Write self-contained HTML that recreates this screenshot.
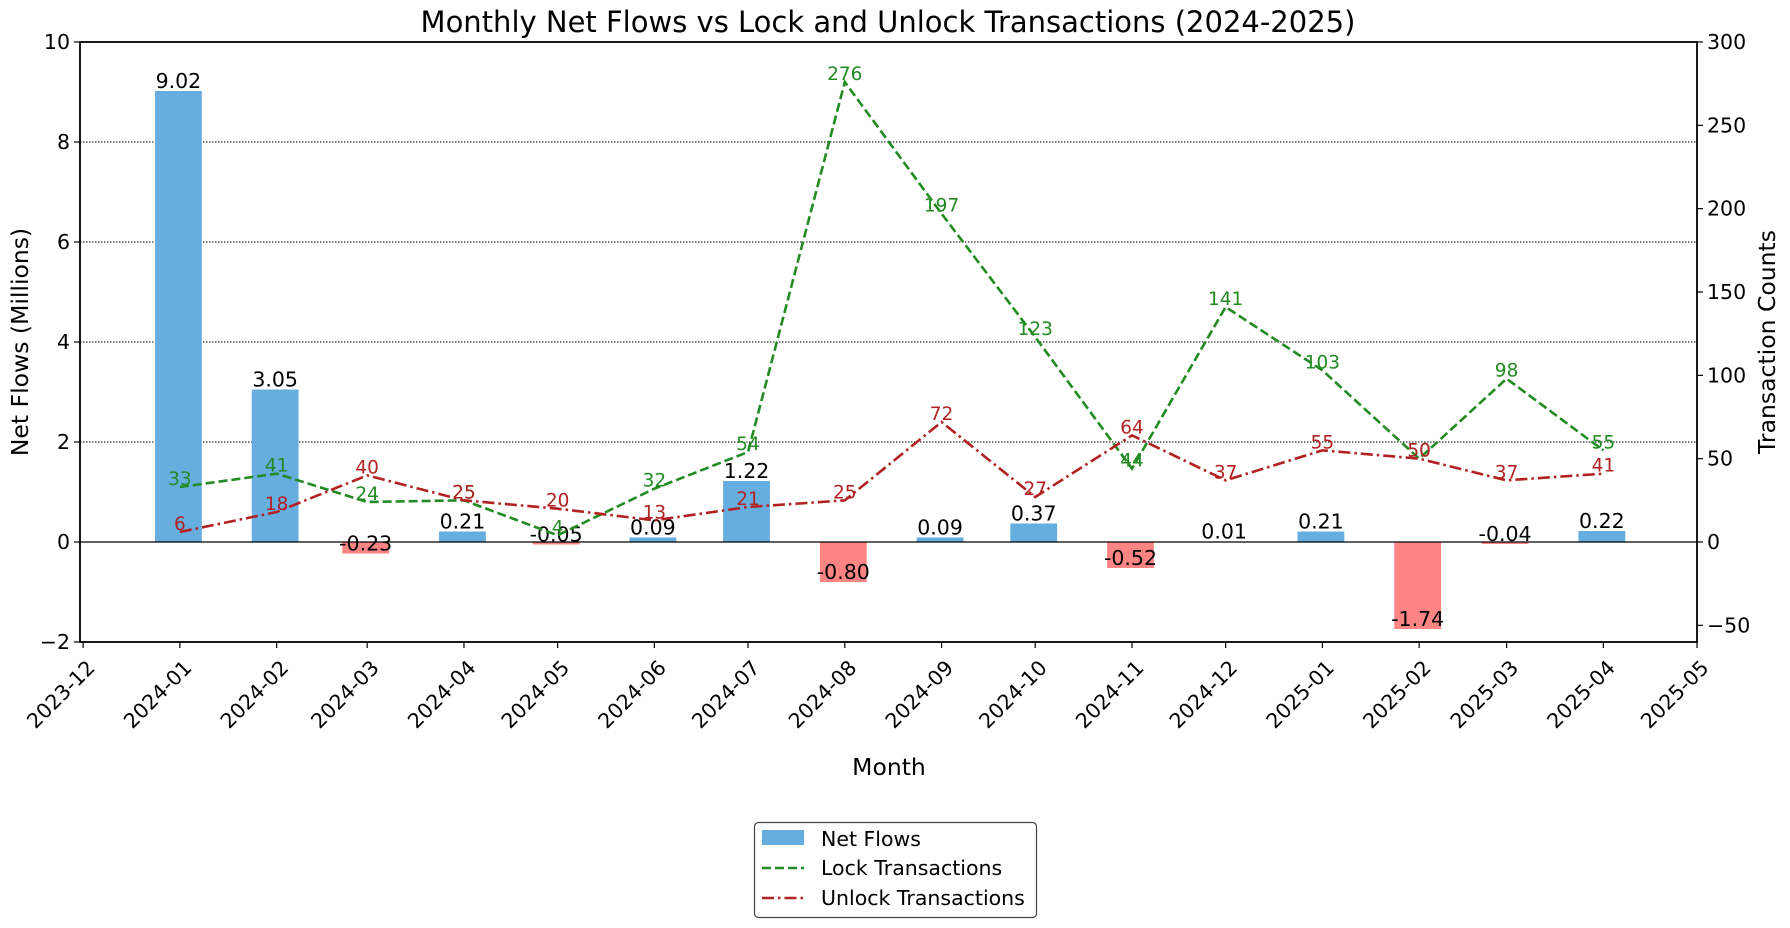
<!DOCTYPE html>
<html><head><meta charset="utf-8"><style>
body{margin:0;background:#fff}
svg{display:block;font-family:"DejaVu Sans","Liberation Sans",sans-serif}
</style></head><body>
<svg id="chart" width="1790" height="928" xmlns="http://www.w3.org/2000/svg"></svg>
<script>
const months = ["2024-01","2024-02","2024-03","2024-04","2024-05","2024-06","2024-07","2024-08","2024-09","2024-10","2024-11","2024-12","2025-01","2025-02","2025-03","2025-04"];
const netFlows = [9.02,3.05,-0.23,0.21,-0.05,0.09,1.22,-0.80,0.09,0.37,-0.52,0.01,0.21,-1.74,-0.04,0.22];
const lockTx = [33,41,24,25,4,32,54,276,197,123,44,141,103,50,98,55];
const unlockTx = [6,18,40,25,20,13,21,25,72,27,64,37,55,50,37,41];
const xTicks = ["2023-12","2024-01","2024-02","2024-03","2024-04","2024-05","2024-06","2024-07","2024-08","2024-09","2024-10","2024-11","2024-12","2025-01","2025-02","2025-03","2025-04","2025-05"];
const leftTicks = [-2,0,2,4,6,8,10];
const rightTicks = [-50,0,50,100,150,200,250,300];

const svg = document.getElementById('chart');
const NS = 'http://www.w3.org/2000/svg';
const L=80,R=1697,T=42,B=642;
const t0 = Date.UTC(2023,10,30), t1 = Date.UTC(2025,4,1);
function day(s){const [y,m]=s.split('-').map(Number);return Date.UTC(y,m-1,1);}
function x(s){return L+(day(s)-t0)/(t1-t0)*(R-L);}
function yl(v){return B-(v+2)/12*(B-T);}
function yr(v){return B-(v+60)/360*(B-T);}
function el(tag,attrs,parent){const e=document.createElementNS(NS,tag);for(const k in attrs)e.setAttribute(k,attrs[k]);(parent||svg).appendChild(e);return e;}
function txt(s,attrs,parent){const e=el('text',attrs,parent);e.textContent=s;return e;}

leftTicks.forEach(v=>{ if(v>0&&v<10){const g=el('line',{x1:L,x2:R,y1:yl(v),y2:yl(v),stroke:'#000','stroke-width':0.9,'stroke-dasharray':'1.5,1.5'});

}});

const pxPerDay=(R-L)/((t1-t0)/86400000);
const bw=15*pxPerDay;
netFlows.forEach((v,i)=>{
  const cx=x(months[i])-1.5;
  const y0=yl(0),y1=yl(v);
  const r=el('rect',{x:cx-bw/2,y:Math.min(y0,y1),width:bw,height:Math.max(Math.abs(y1-y0),1),fill:v>=0?'#66aee0':'#ff8585'});
  
  
  const t=txt(v.toFixed(2),{x:cx,y:y1-3,'text-anchor':'middle','font-size':20.5,fill:'#000'});
  
  
});
const z=el('line',{x1:L,x2:R,y1:yl(0),y2:yl(0),stroke:'#000','stroke-width':1.3});



function series(vals,color,dash,name){
  const pts=vals.map((v,i)=>x(months[i])+','+yr(v)).join(' ');
  const p=el('polyline',{points:pts,fill:'none',stroke:color,'stroke-width':2.6,'stroke-dasharray':dash});
  
  
  vals.forEach((v,i)=>{
    const t=txt(String(v),{x:x(months[i]),y:yr(v)-2,'text-anchor':'middle','font-size':18.5,fill:color});
    
    
  });
}
series(lockTx,'#228b22','9,4','lock');
series(unlockTx,'#b22222','12,4,2.5,4','unlock');

const f=el('rect',{x:L,y:T,width:R-L,height:B-T,fill:'none',stroke:'#000','stroke-width':1.8});



leftTicks.forEach(v=>{
  el('line',{x1:L-6,x2:L,y1:yl(v),y2:yl(v),stroke:'#000','stroke-width':1.2});
  const t=txt(v<0?'\u2212'+Math.abs(v):String(v),{x:L-10,y:yl(v)+7,'text-anchor':'end','font-size':20.5});
  
  
});
rightTicks.forEach(v=>{
  el('line',{x1:R,x2:R+6,y1:yr(v),y2:yr(v),stroke:'#000','stroke-width':1.2});
  const t=txt(v<0?'\u2212'+Math.abs(v):String(v),{x:R+10,y:yr(v)+7,'text-anchor':'start','font-size':20.5});
  
  
});
xTicks.forEach(s=>{
  const xx=x(s);
  el('line',{x1:xx,x2:xx,y1:B,y2:B+6,stroke:'#000','stroke-width':1.2});
  const t=txt(s,{x:0,y:0,'text-anchor':'end','font-size':20.5,transform:`translate(${xx+13},${B+27}) rotate(-45)`});
  
  
});
</script>
<svg style="position:absolute;left:0;top:0" width="1790" height="928" xmlns="http://www.w3.org/2000/svg" font-family="DejaVu Sans, Liberation Sans, sans-serif">
<text x="888" y="32" text-anchor="middle" font-size="29">Monthly Net Flows vs Lock and Unlock Transactions (2024-2025)</text>
<text x="889" y="775" text-anchor="middle" font-size="23.5">Month</text>
<text transform="translate(28,342) rotate(-90)" text-anchor="middle" font-size="23.5">Net Flows (Millions)</text>
<text transform="translate(1775,342) rotate(-90)" text-anchor="middle" font-size="23.5">Transaction Counts</text>
<g>
<rect x="754.5" y="822.5" width="282" height="95" rx="4" fill="#fff" stroke="#444" stroke-width="1.2"/>
<rect x="762" y="830" width="42" height="15" fill="#66aee0"/>
<text x="821" y="846" font-size="20.5">Net Flows</text>
<line x1="762" x2="804" y1="868" y2="868" stroke="#228b22" stroke-width="2.6" stroke-dasharray="9,4"/>
<text x="821" y="875" font-size="20.5">Lock Transactions</text>
<line x1="762" x2="804" y1="898" y2="898" stroke="#b22222" stroke-width="2.6" stroke-dasharray="12,4,2.5,4"/>
<text x="821" y="905" font-size="20.5">Unlock Transactions</text>
</g>
</svg>
</body></html>
